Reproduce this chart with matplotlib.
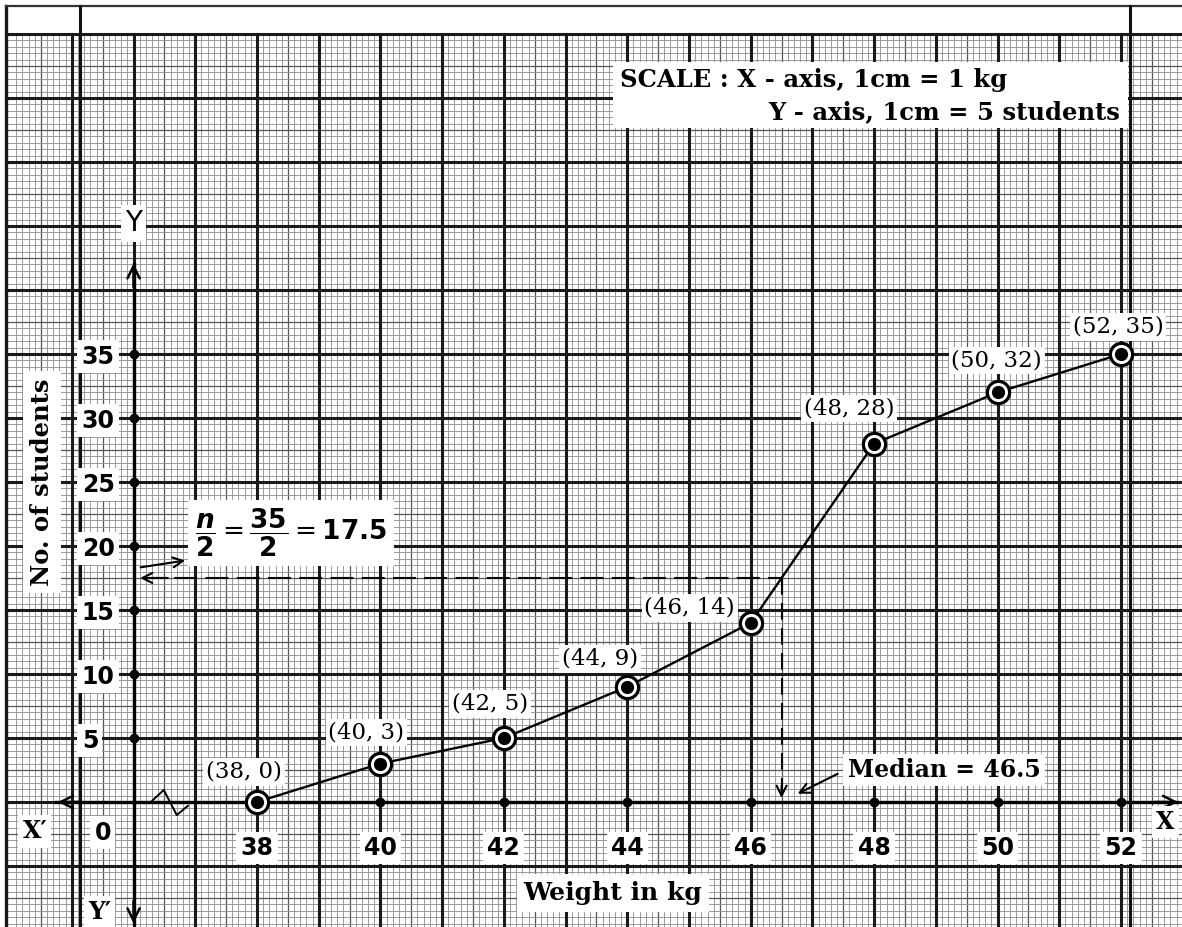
import numpy as np
import matplotlib
matplotlib.use("Agg")
import matplotlib.pyplot as plt
from matplotlib.patches import Rectangle

weights = [38, 40, 42, 44, 46, 48, 50, 52]
cum_students = [0, 3, 5, 9, 14, 28, 32, 35]
y_ticks = [5, 10, 15, 20, 25, 30, 35]
x_ticks = [38, 40, 42, 44, 46, 48, 50, 52]
n_total = 35
median_y = n_total / 2
median_x = 46.5

# label offsets (pixels) for the point labels
label_offsets = [(-13, 30), (-14, 31), (-14, 34), (-27, 28), (-61, 15), (-25, 35), (-1, 32), (-3, 27)]

fig = plt.figure(figsize=(11.82, 9.27), dpi=100)
ax = fig.add_axes([0, 0, 1, 1])
x0, x1 = 33.836, 52.988
y0, y1 = -9.766, 62.656
ax.set_xlim(x0, x1)
ax.set_ylim(y0, y1)
ax.axis("off")

# graph paper
gx_left, gy_top = 33.93, 60
xs = np.round(np.arange(34.0, 53.0, 0.1), 2)
for x in xs:
    if abs(x - round(x)) < 1e-6:
        continue
    half = abs(x * 2 - round(x * 2)) < 1e-6
    ax.plot([x, x], [y0, gy_top], color="#555555" if half else "#8c8c8c",
            lw=0.9 if half else 0.6, zorder=1)
ys = np.round(np.arange(-9.5, 60.0, 0.5), 2)
for y in ys:
    if abs(y / 5 - round(y / 5)) < 1e-6:
        continue
    half = abs(y / 2.5 - round(y / 2.5)) < 1e-6
    ax.plot([gx_left, x1], [y, y], color="#555555" if half else "#8c8c8c",
            lw=0.9 if half else 0.6, zorder=1)
for x in range(35, 53):
    ax.plot([x, x], [y0, gy_top], color="#1a1a1a", lw=2.2, zorder=2)
for y in range(-5, 61, 5):
    ax.plot([gx_left, x1], [y, y], color="#1a1a1a", lw=2.2, zorder=2)

# page frame
ax.plot([gx_left, gx_left], [y0, 62.19], color="#1a1a1a", lw=2.4, zorder=2)
ax.plot([gx_left, x1], [62.19, 62.19], color="#333333", lw=1.6, zorder=2)
ax.plot([35.125, 35.125], [y0, 62.19], color="#111111", lw=2.2, zorder=2)
ax.plot([52.146, 52.146], [y0, 62.19], color="#111111", lw=2.2, zorder=2)

# axes
ax.plot([34.75, 52.9], [0, 0], color="black", lw=2.4, zorder=4)
ax.plot([36, 36], [-9.5, 42.0], color="black", lw=2.4, zorder=4)
arrow_kw = dict(arrowstyle="->", lw=1.8, color="black", mutation_scale=22)
ax.annotate("", xy=(34.73, 0), xytext=(35.2, 0), arrowprops=arrow_kw, zorder=4)
ax.annotate("", xy=(52.97, 0), xytext=(52.5, 0), arrowprops=arrow_kw, zorder=4)
ax.annotate("", xy=(36, 42.3), xytext=(36, 40), arrowprops=arrow_kw, zorder=4)
ax.annotate("", xy=(36, -9.7), xytext=(36, -7.5), arrowprops=arrow_kw, zorder=4)

# axis break zigzag
ax.plot([36.28, 36.49, 36.70, 36.88], [0, 0.94, -1.02, -0.3], color="black", lw=1.4, zorder=4)

# tick dots
ax.plot([36] * len(y_ticks), y_ticks, "o", color="black", ms=6, zorder=5)
ax.plot(x_ticks, [0] * len(x_ticks), "o", color="black", ms=6, zorder=5)

box = dict(facecolor="white", edgecolor="none", pad=3)
for v in y_ticks:
    ax.text(35.16, v - 0.2, str(v), ha="left", va="center", fontsize=17,
            fontweight="bold", family="DejaVu Sans", bbox=box, zorder=6)
ax.text(35.5, -2.4, "0", ha="center", va="center", fontsize=17,
        fontweight="bold", family="DejaVu Sans", bbox=box, zorder=6)
for v in x_ticks:
    ax.text(v, -3.6, str(v), ha="center", va="center", fontsize=17,
            fontweight="bold", family="DejaVu Sans", bbox=box, zorder=6)

ax.text(34.4, -2.3, "X\u2032", ha="center", va="center", fontsize=17,
        fontweight="bold", family="DejaVu Serif", bbox=box, zorder=6)
ax.text(52.72, -1.55, "X", ha="center", va="center", fontsize=17,
        fontweight="bold", family="DejaVu Serif", bbox=box, zorder=6)
ax.text(35.45, -8.6, "Y\u2032", ha="center", va="center", fontsize=17,
        fontweight="bold", family="DejaVu Serif", bbox=box, zorder=6)
ax.text(36, 45.2, "Y", ha="center", va="center", fontsize=20,
        family="DejaVu Sans", bbox=box, zorder=6)

ax.text(34.52, 25.0, "No. of students", rotation=90, ha="center", va="center",
        fontsize=17.5, fontweight="bold", family="DejaVu Serif",
        bbox=dict(facecolor="white", edgecolor="none", pad=5), zorder=6)
ax.text(43.77, -7.12, "Weight in kg", ha="center", va="center",
        fontsize=18, fontweight="bold", family="DejaVu Serif",
        bbox=dict(facecolor="white", edgecolor="none", pad=5), zorder=6)

# scale note
ax.add_patch(Rectangle((43.77, 52.66), 8.34, 5.15, facecolor="white", edgecolor="none", zorder=5))
ax.text(43.88, 56.4, "SCALE : X - axis, 1cm = 1 kg", ha="left", va="center",
        fontsize=17.5, fontweight="bold", family="DejaVu Serif", zorder=6)
ax.text(51.98, 53.9, "Y - axis, 1cm = 5 students", ha="right", va="center",
        fontsize=17.5, fontweight="bold", family="DejaVu Serif", zorder=6)

# median construction
ax.plot([36.15, median_x], [median_y, median_y], color="black", lw=1.5,
        dashes=(11, 4), zorder=5)
ax.annotate("", xy=(36.06, median_y), xytext=(36.6, median_y),
            arrowprops=dict(arrowstyle="->", lw=1.5, color="black", mutation_scale=18), zorder=5)
ax.plot([median_x, median_x], [median_y, 0.6], color="black", lw=1.5,
        dashes=(8, 4), zorder=5)
ax.annotate("", xy=(median_x, 0.1), xytext=(median_x, 1.5),
            arrowprops=dict(arrowstyle="->", lw=1.5, color="black", mutation_scale=18), zorder=5)

ax.text(37.0, 21.0,
        r"$\dfrac{\boldsymbol{n}}{\mathbf{2}} = \dfrac{\mathbf{35}}{\mathbf{2}} = \mathbf{17.5}$",
        ha="left", va="center", fontsize=19,
        bbox=dict(facecolor="white", edgecolor="none", pad=5), zorder=6)
ax.annotate("", xy=(36.88, 18.9), xytext=(36.07, 18.3),
            arrowprops=dict(arrowstyle="->", lw=1.5, color="black", mutation_scale=18), zorder=7)

ax.text(49.13, 2.5, "Median = 46.5", ha="center", va="center", fontsize=17,
        fontweight="bold", family="DejaVu Serif", bbox=box, zorder=6)
ax.annotate("", xy=(46.72, 0.55), xytext=(47.45, 2.3),
            arrowprops=dict(arrowstyle="->", lw=1.5, color="black", mutation_scale=18), zorder=7)

# ogive
ax.plot(weights, cum_students, color="black", lw=1.7, zorder=7)
ax.plot(weights, cum_students, "o", ms=16, mfc="white", mec="black", mew=2.3, zorder=8)
ax.plot(weights, cum_students, "o", ms=8.5, color="black", zorder=9)

for w, c, (dx, dy) in zip(weights, cum_students, label_offsets):
    ax.annotate(f"({w}, {c})", xy=(w, c), xytext=(dx, dy), textcoords="offset pixels",
                ha="center", va="center", fontsize=16.5, family="DejaVu Serif",
                bbox=dict(facecolor="white", edgecolor="none", pad=2), zorder=10)

fig.savefig("out.png", dpi=100)
